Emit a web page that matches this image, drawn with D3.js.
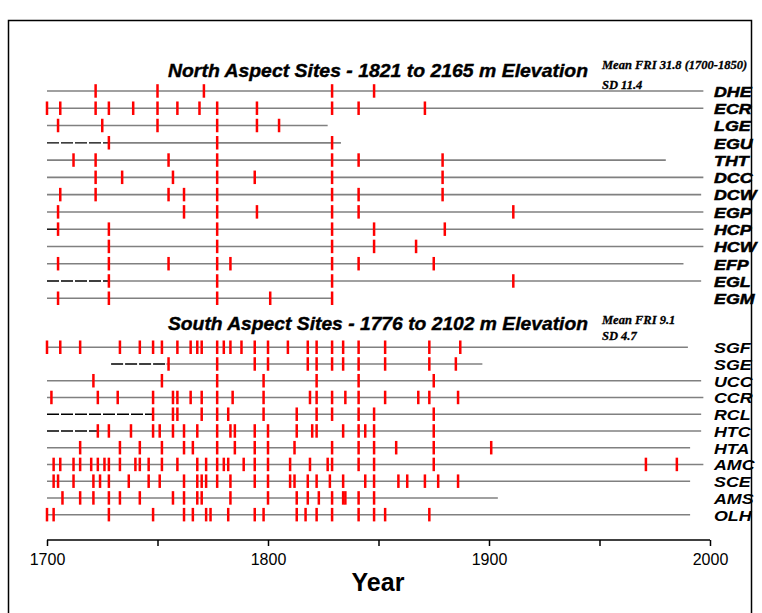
<!DOCTYPE html>
<html>
<head>
<meta charset="utf-8">
<script src="https://cdn.jsdelivr.net/npm/d3@7/dist/d3.min.js"></script>
<style>
  html, body { margin: 0; padding: 0; background: #fff; }
  svg { display: block; }
</style>
</head>
<body>
<script>
// ---------------- DATA ----------------
const northTitle = "North Aspect Sites - 1821 to 2165 m Elevation";
const northNote = ["Mean FRI 31.8 (1700-1850)", "SD 11.4"];
const northSites = ["DHE","ECR","LGE","EGU","THT","DCC","DCW","EGP","HCP","HCW","EFP","EGL","EGM"];
const northRecording = [
  [1700,1997],[1700,1997],[1700,1827],[1728,1833],[1700,1980],[1700,1997],[1700,1996],
  [1700,1997],[1705,1997],[1700,1997],[1700,1988],[1728,1996],[1700,1829]
];
const northNull = [null,null,null,[1700,1728],null,null,null,null,[1700,1705],null,null,[1700,1728],null];
const northFires = [
  [1722,1750,1771,1829,1848],
  [1700,1706,1722,1728,1739,1750,1759,1769,1777,1795,1829,1841,1871],
  [1705,1725,1750,1777,1795,1805],
  [1728,1777,1829],
  [1712,1722,1755,1777,1829,1841,1879],
  [1722,1734,1757,1777,1794,1829,1879],
  [1706,1722,1755,1762,1777,1829,1841,1879],
  [1705,1762,1777,1795,1829,1841,1911],
  [1705,1728,1777,1829,1848,1880],
  [1728,1777,1829,1848,1867],
  [1705,1728,1755,1777,1783,1829,1841,1875],
  [1728,1777,1829,1911],
  [1705,1728,1777,1801,1829]
];

const southTitle = "South Aspect Sites - 1776 to 2102 m Elevation";
const southNote = ["Mean FRI 9.1", "SD 4.7"];
const southSites = ["SGF","SGE","UCC","CCR","RCL","HTC","HTA","AMC","SCE","AMS","OLH"];
const southRecording = [
  [1700,1990],[1754,1897],[1700,1996],[1700,1997],[1748,1996],[1723,1996],
  [1700,1991],[1700,1997],[1700,1991],[1700,1904],[1700,1991]
];
const southNull = [null,[1729,1754],null,null,[1700,1748],[1700,1723],null,null,null,null,null];
const southFires = [
  [1700,1706,1715,1733,1742,1748,1752,1759,1765,1768,1770,1777,1780,1783,1788,1794,1800,1809,1818,1822,1829,1834,1841,1853,1873,1887],
  [1755,1777,1794,1800,1818,1822,1829,1834,1841,1853,1873,1885],
  [1721,1752,1777,1798,1822,1841,1875],
  [1702,1723,1732,1748,1757,1759,1765,1770,1777,1784,1798,1819,1822,1829,1835,1841,1853,1868,1873,1886],
  [1748,1757,1759,1770,1777,1782,1798,1813,1822,1829,1841,1848,1875],
  [1723,1728,1738,1748,1751,1757,1762,1768,1777,1783,1785,1794,1800,1813,1820,1822,1834,1841,1844,1848,1875],
  [1715,1733,1742,1752,1762,1766,1777,1785,1794,1800,1812,1829,1841,1848,1858,1875,1901],
  [1703,1706,1712,1715,1720,1723,1726,1728,1733,1740,1742,1746,1752,1759,1768,1772,1777,1780,1782,1789,1794,1800,1810,1819,1827,1829,1841,1848,1875,1971,1985],
  [1703,1705,1712,1721,1724,1728,1737,1746,1751,1762,1768,1770,1772,1777,1783,1794,1800,1810,1812,1818,1822,1828,1834,1844,1848,1859,1863,1871,1877,1886],
  [1707,1715,1721,1728,1733,1742,1757,1762,1768,1770,1783,1800,1813,1818,1823,1829,1834,1835,1841,1848],
  [1700,1703,1728,1748,1762,1766,1772,1774,1782,1794,1798,1813,1817,1822,1829,1841,1848,1853,1873]
];

const yearDomain = [1700, 2000];
const tickYears = [1700,1750,1800,1850,1900,1950,2000];
const labeledTicks = [1700,1800,1900,2000];
const axisTitle = "Year";

// ---------------- DRAW ----------------
const W = 762, H = 613;
const svg = d3.select("body").append("svg").attr("width", W).attr("height", H);

// outer frame
svg.append("rect").attr("x", 8.5).attr("y", 20.5).attr("width", 743).attr("height", 640)
  .attr("fill", "none").attr("stroke", "#000").attr("stroke-width", 1.5);

const x = d3.scaleLinear().domain(yearDomain).range([47, 710]);

function drawPanel(sites, recording, nulls, fires, yRange, title, titleY, note, noteY, heavy) {
  const y = d3.scalePoint().domain(sites).range(yRange);
  const g = svg.append("g");

  // recording lines
  g.selectAll("line.rec").data(sites).join("line")
    .attr("x1", (d, i) => x(recording[i][0]))
    .attr("x2", (d, i) => x(recording[i][1]))
    .attr("y1", d => y(d)).attr("y2", d => y(d))
    .attr("stroke", "#808080").attr("stroke-width", 1.6);

  // null (dashed) segments
  g.selectAll("line.null").data(sites.filter((d, i) => nulls[i])).join("line")
    .attr("x1", d => x(nulls[sites.indexOf(d)][0]))
    .attr("x2", d => x(nulls[sites.indexOf(d)][1]))
    .attr("y1", d => y(d)).attr("y2", d => y(d))
    .attr("stroke", "#000").attr("stroke-width", 1.4)
    .attr("stroke-dasharray", "12,2");

  // fire scars
  const scars = [];
  sites.forEach((s, i) => fires[i].forEach(yr => scars.push({ s, yr })));
  g.selectAll("rect.scar").data(scars).join("rect")
    .attr("x", d => x(d.yr) - 1.25)
    .attr("y", d => y(d.s) - 6.8)
    .attr("width", 2.5).attr("height", 13.5)
    .attr("fill", "#ff0000");

  // site labels
  g.selectAll("text.lab").data(sites).join("text")
    .attr("transform", d => `translate(714,${y(d) + 5.8}) scale(1.15,1)`)
    .attr("font-family", "'Liberation Sans', Arial, sans-serif")
    .attr("font-weight", "bold").attr("font-style", "italic")
    .attr("font-size", 15.5)
    .attr("stroke", heavy ? "#000" : "none").attr("stroke-width", heavy ? 0.5 : 0)
    .text(d => d);

  // title
  svg.append("text").attr("x", 168).attr("y", titleY)
    .attr("font-family", "'Liberation Sans', Arial, sans-serif")
    .attr("font-weight", "bold").attr("font-style", "italic")
    .attr("font-size", 19)
    .attr("textLength", 420).attr("lengthAdjust", "spacingAndGlyphs")
    .attr("stroke", "#000").attr("stroke-width", 0.4)
    .text(title);

  // note
  note.forEach((t, i) => {
    svg.append("text").attr("x", 602).attr("y", noteY[i])
      .attr("font-family", "'Liberation Serif', 'Times New Roman', serif")
      .attr("font-weight", "bold").attr("font-style", "italic")
      .attr("font-size", 12.5)
      .attr("stroke", "#000").attr("stroke-width", 0.3)
      .text(t);
  });
}

drawPanel(northSites, northRecording, northNull, northFires, [91, 298.3],
  northTitle, 77, northNote, [69, 88.5], true);
drawPanel(southSites, southRecording, southNull, southFires, [347.3, 514.7],
  southTitle, 330, southNote, [324, 339.5], false);

// axis
const axis = d3.axisBottom(x)
  .tickValues(tickYears)
  .tickSize(6)
  .tickFormat(d => labeledTicks.includes(d) ? String(d) : "");
const ag = svg.append("g").attr("transform", "translate(0,540)").call(axis);
ag.select(".domain").attr("stroke", "#000").attr("stroke-width", 1.5)
  .attr("d", `M${x(yearDomain[0])},0H${x(yearDomain[1])}`);
ag.selectAll(".tick line").attr("stroke", "#000").attr("stroke-width", 1.5);
ag.selectAll(".tick text")
  .attr("font-family", "'Liberation Sans', Arial, sans-serif")
  .attr("font-size", 16).attr("fill", "#000").attr("dy", "1em");

svg.append("text").attr("x", 378).attr("y", 591).attr("text-anchor", "middle")
  .attr("font-family", "'Liberation Sans', Arial, sans-serif")
  .attr("font-weight", "bold").attr("font-size", 25)
  .text(axisTitle);
</script>
</body>
</html>
